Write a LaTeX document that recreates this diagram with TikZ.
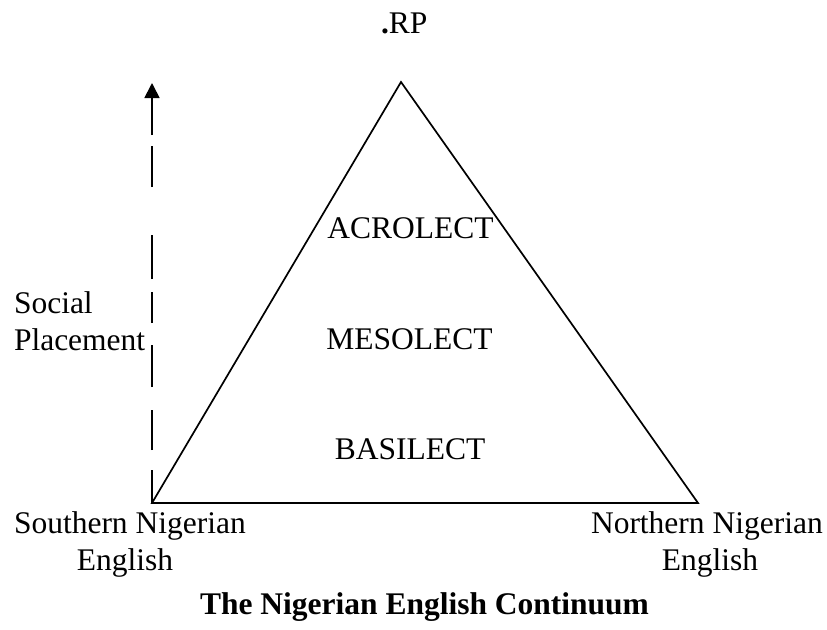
\documentclass[tikz,border=0pt]{standalone}
\usepackage{fontspec}
\setmainfont{Liberation Serif}
\usetikzlibrary{arrows.meta}
\begin{document}
\begin{tikzpicture}[x=1pt,y=-1pt,
  lbl/.style={inner sep=0pt,outer sep=0pt,font=\fontsize{31.5}{37}\selectfont},
  edge/.style={line width=1.7pt,line join=miter},
  dasharrow/.style={line width=1.7pt,-{Triangle[width=15pt,length=15pt]},
    dash pattern=on 33pt off 20pt on 40pt off 23pt on 42pt off 22pt on 31pt off 13pt on 44pt off 48pt on 41pt off 11pt on 45pt off 1pt}]
\useasboundingbox (0,0) rectangle (827,629);
% triangle
\coordinate (apex) at (401,82);
\coordinate (bl) at (152,503);
\coordinate (br) at (698,503);
\draw[edge] (apex) -- (bl) -- (br) -- cycle;
% social placement arrow
\coordinate (atop) at (152,83);
\draw[dasharrow] (bl) -- (atop);
% labels
\node[lbl,anchor=base west] (rp) at (381,33) {\textbf{.}RP};
\node[lbl,anchor=base] (acro) at (410.5,238) {ACROLECT};
\node[lbl,anchor=base] (meso) at (409.5,349) {MESOLECT};
\node[lbl,anchor=base] (basi) at (410,459) {BASILECT};
\node[lbl,anchor=base west] (soc) at (14,313) {Social};
\node[lbl,anchor=base west] (plc) at (14,350) {Placement};
\node[lbl,anchor=base west] (sn) at (14,533) {Southern Nigerian};
\node[lbl,anchor=base] (se) at (125,570) {English};
\node[lbl,anchor=base west] (nn) at (591,533) {Northern Nigerian};
\node[lbl,anchor=base] (ne) at (710,570) {English};
\node[lbl,anchor=base,font=\fontsize{31.5}{37}\selectfont\bfseries] (title) at (424.5,614) {The Nigerian English Continuum};
\end{tikzpicture}
\end{document}
